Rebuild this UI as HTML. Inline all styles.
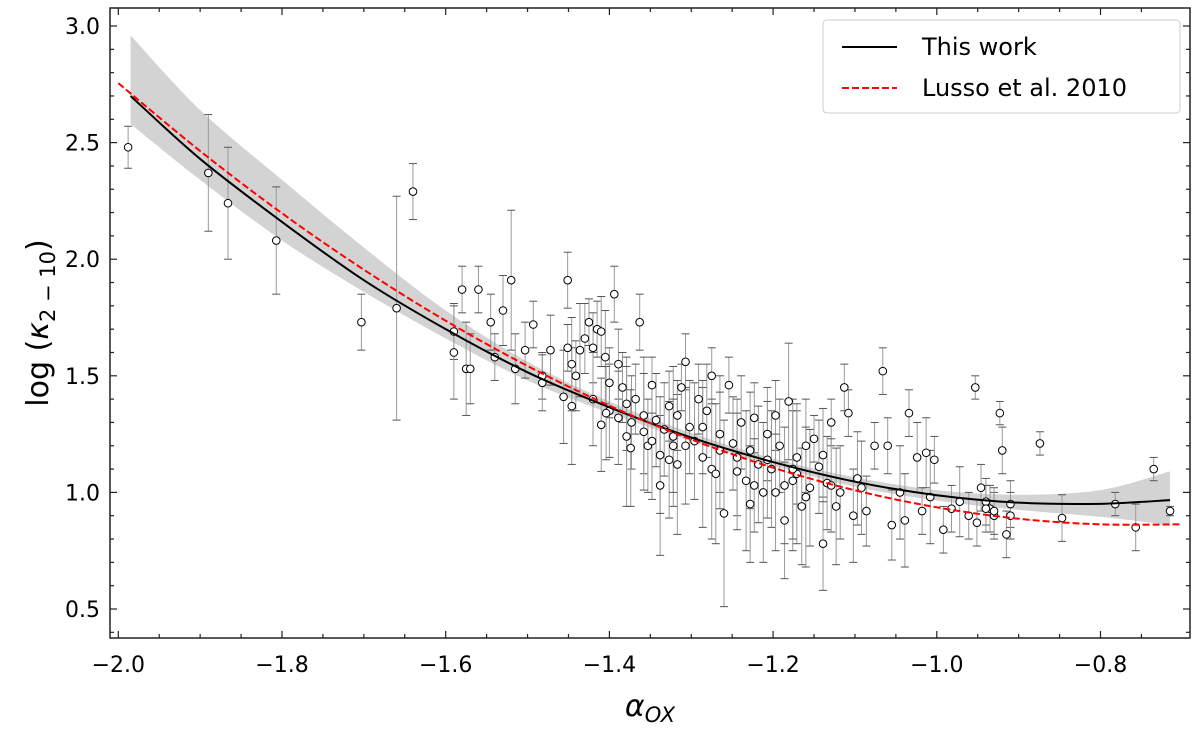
<!DOCTYPE html>
<html><head><meta charset="utf-8"><style>body{margin:0;background:#fff}svg{display:block;font-family:"DejaVu Sans","Liberation Sans",sans-serif}</style></head>
<body>
<svg id="chart" width="1200" height="735" viewBox="0 0 1200 735" xmlns="http://www.w3.org/2000/svg"></svg>
<script>
const alphaOX = [
-1.988,-1.89,-1.866,-1.807,-1.703,-1.66,-1.64,-1.59,-1.59,-1.58,
-1.575,-1.57,-1.56,-1.545,-1.54,-1.53,-1.52,-1.515,-1.503,-1.493,
-1.482,-1.482,-1.472,-1.456,-1.451,-1.446,-1.446,-1.441,-1.436,-1.43,
-1.425,-1.42,-1.415,-1.41,-1.41,-1.405,-1.4,-1.4,-1.394,-1.389,
-1.389,-1.384,-1.379,-1.379,-1.373,-1.368,-1.363,-1.358,-1.353,-1.348,
-1.343,-1.338,-1.338,-1.333,-1.327,-1.322,-1.317,-1.317,-1.312,-1.307,
-1.302,-1.296,-1.291,-1.286,-1.281,-1.275,-1.275,-1.27,-1.265,-1.26,
-1.254,-1.249,-1.244,-1.239,-1.233,-1.228,-1.223,-1.218,-1.212,-1.207,
-1.202,-1.197,-1.192,-1.186,-1.181,-1.176,-1.171,-1.165,-1.16,-1.155,
-1.15,-1.144,-1.139,-1.134,-1.129,-1.123,-1.118,-1.113,-1.108,-1.102,
-1.097,-1.086,-1.076,-1.066,-1.06,-1.055,-1.045,-1.039,-1.034,-1.024,
-1.018,-1.013,-1.008,-1.003,-0.992,-0.982,-0.972,-0.961,-0.951,-0.946,
-0.94,-0.935,-0.93,-0.953,-0.94,-0.93,-0.923,-0.92,-0.915,-0.91,
-0.91,-0.874,-0.847,-0.782,-0.757,-0.735,-0.715,-1.451,-1.358,-1.307,
-1.42,-1.374,-1.327,-1.286,-1.244,-1.228,-1.197,-1.171,-1.16,-1.139,
-1.404,-1.348,-1.322,-1.265,-1.223,-1.207,-1.186,-1.176,-1.129,-1.092];
const logKappa = [
2.48,2.37,2.24,2.08,1.73,1.79,2.29,1.69,1.60,1.87,
1.53,1.53,1.87,1.73,1.58,1.78,1.91,1.53,1.61,1.72,
1.50,1.47,1.61,1.41,1.91,1.55,1.37,1.50,1.61,1.66,
1.73,1.62,1.70,1.69,1.29,1.58,1.35,1.47,1.85,1.55,
1.32,1.45,1.38,1.24,1.30,1.40,1.73,1.33,1.20,1.22,
1.31,1.03,1.16,1.27,1.37,1.24,1.12,1.33,1.45,1.56,
1.28,1.22,1.40,1.15,1.35,1.50,1.10,1.08,1.25,0.91,
1.46,1.21,1.15,1.30,1.05,1.18,1.32,1.12,1.00,1.25,
1.10,1.33,1.20,0.88,1.39,1.05,1.15,0.94,1.20,1.02,
1.23,1.11,0.78,1.04,1.30,0.94,1.00,1.45,1.34,0.90,
1.06,0.92,1.20,1.52,1.20,0.86,1.00,0.88,1.34,1.15,
0.92,1.17,0.98,1.14,0.84,0.93,0.96,0.90,0.87,1.02,
0.96,0.93,0.90,1.45,0.93,0.92,1.34,1.18,0.82,0.95,
0.90,1.21,0.89,0.95,0.85,1.10,0.92,1.62,1.26,1.20,
1.40,1.19,1.14,1.28,1.09,0.95,1.00,1.08,0.98,1.16,
1.34,1.46,1.20,1.18,1.03,1.14,1.03,1.10,1.03,1.02];
const errKappa = [
0.09,0.25,0.24,0.23,0.12,0.48,0.12,0.12,0.2,0.1,
0.2,0.15,0.1,0.12,0.1,0.15,0.3,0.15,0.12,0.1,
0.1,0.12,0.15,0.2,0.12,0.2,0.25,0.15,0.2,0.15,
0.1,0.15,0.12,0.15,0.2,0.2,0.2,0.15,0.12,0.15,
0.2,0.15,0.2,0.3,0.2,0.15,0.12,0.25,0.2,0.25,
0.2,0.3,0.25,0.2,0.15,0.3,0.3,0.15,0.1,0.12,
0.2,0.25,0.15,0.3,0.2,0.12,0.3,0.3,0.25,0.4,
0.12,0.2,0.25,0.2,0.3,0.25,0.15,0.25,0.3,0.2,
0.25,0.15,0.2,0.25,0.25,0.3,0.2,0.25,0.2,0.25,
0.1,0.2,0.2,0.2,0.1,0.25,0.2,0.1,0.1,0.2,
0.2,0.15,0.1,0.1,0.12,0.15,0.2,0.2,0.1,0.15,
0.1,0.15,0.2,0.1,0.1,0.1,0.15,0.1,0.1,0.1,
0.1,0.1,0.1,0.05,0.1,0.1,0.05,0.1,0.1,0.1,
0.1,0.05,0.1,0.05,0.1,0.05,0.02,0.1,0.25,0.25,
0.2,0.25,0.25,0.2,0.25,0.25,0.25,0.3,0.3,0.2,
0.2,0.12,0.2,0.25,0.2,0.25,0.25,0.3,0.2,0.2];
const fitAlpha = [-1.985,-1.9,-1.8,-1.7,-1.6,-1.5,-1.4,-1.3,-1.2,-1.1,-1.0,-0.9,-0.8,-0.715];
const fitThisWork = [2.70,2.43,2.16,1.91,1.70,1.515,1.365,1.235,1.13,1.046,0.988,0.956,0.951,0.967];
const bandUpper = [2.96,2.64,2.34,2.05,1.78,1.56,1.39,1.255,1.145,1.065,1.01,0.99,1.01,1.09];
const bandLower = [2.58,2.34,2.08,1.86,1.66,1.48,1.34,1.22,1.115,1.025,0.965,0.925,0.895,0.86];
const lussoAlpha = [-2.0,-1.9,-1.8,-1.7,-1.6,-1.5,-1.4,-1.3,-1.2,-1.1,-1.0,-0.9,-0.8,-0.7];
const lussoFit = [2.755,2.464,2.197,1.955,1.736,1.542,1.372,1.227,1.106,1.009,0.936,0.887,0.863,0.863];
const xTicks = [-2.0,-1.8,-1.6,-1.4,-1.2,-1.0,-0.8];
const yTicks = [0.5,1.0,1.5,2.0,2.5,3.0];

const L=110,R=1190,T=8,B=638;
const xs=a=>118.3+(a+2)*818.5;
const ys=v=>609-(v-0.5)*233.2;
const svg=document.getElementById('chart');
const NS='http://www.w3.org/2000/svg';
function mk(tag,attrs,parent){const e=document.createElementNS(NS,tag);for(const k in attrs)e.setAttribute(k,attrs[k]);(parent||svg).appendChild(e);return e;}
function curve(xsA,ysA){const p=xsA.map((a,i)=>[xs(a),ys(ysA[i])]);let d='M'+p[0][0]+','+p[0][1];
for(let i=0;i<p.length-1;i++){const p0=p[i-1]||p[i],p1=p[i],p2=p[i+1],p3=p[i+2]||p2;
d+=' C'+(p1[0]+(p2[0]-p0[0])/6)+','+(p1[1]+(p2[1]-p0[1])/6)+' '+(p2[0]-(p3[0]-p1[0])/6)+','+(p2[1]-(p3[1]-p1[1])/6)+' '+p2[0]+','+p2[1];}return d;}

const clip=mk('clipPath',{id:'pc'});mk('rect',{x:L,y:T,width:R-L,height:B-T},clip);
const plot=mk('g',{'clip-path':'url(#pc)'});


const up=curve(fitAlpha,bandUpper);
const lowRev=curve(fitAlpha.slice().reverse(),bandLower.slice().reverse());
const band=mk('path',{d:up+' L'+lowRev.slice(1)+' Z',fill:'#d3d3d3',stroke:'none'},plot);


for(let i=0;i<alphaOX.length;i++){
 const x=xs(alphaOX[i]),y1=ys(logKappa[i]-errKappa[i]),y2=ys(logKappa[i]+errKappa[i]);
 const g=mk('g',{stroke:'#999','stroke-width':1},plot);
 
 
 mk('line',{x1:x,x2:x,y1:y1,y2:y2},g);
 mk('line',{x1:x-4,x2:x+4,y1:y1,y2:y1,stroke:'#555'},g);
 mk('line',{x1:x-4,x2:x+4,y1:y2,y2:y2,stroke:'#555'},g);
}
for(let i=0;i<alphaOX.length;i++){
 const c=mk('circle',{cx:xs(alphaOX[i]),cy:ys(logKappa[i]),r:3.8,fill:'#fff',stroke:'#000','stroke-width':1},plot);
 
 
}
const bl=mk('path',{d:curve(fitAlpha,fitThisWork),fill:'none',stroke:'#000','stroke-width':2},plot);


const rl=mk('path',{d:curve(lussoAlpha,lussoFit),fill:'none',stroke:'#f00','stroke-width':2,'stroke-dasharray':'7,3'},plot);


const fr=mk('rect',{x:L,y:T,width:R-L,height:B-T,fill:'none',stroke:'#222','stroke-width':1.5});


for(let v=-2.0;v<=-0.7;v+=0.05){const x=xs(v);const maj=Math.abs(v*5-Math.round(v*5))<1e-6;const len=maj?7:4;
 mk('line',{x1:x,x2:x,y1:B,y2:B-len,stroke:'#222','stroke-width':1.2});mk('line',{x1:x,x2:x,y1:T,y2:T+len,stroke:'#222','stroke-width':1.2});}
for(let v=0.4;v<=3.1;v+=0.1){const y=ys(v);if(y<T||y>B)continue;const maj=Math.abs(v*2-Math.round(v*2))<1e-6;const len=maj?7:4;
 mk('line',{x1:L,x2:L+len,y1:y,y2:y,stroke:'#222','stroke-width':1.2});mk('line',{x1:R,x2:R-len,y1:y,y2:y,stroke:'#222','stroke-width':1.2});}
xTicks.forEach(v=>{const t=mk('text',{x:xs(v),y:672,'text-anchor':'middle','font-size':22});t.textContent=v.toFixed(1).replace('-','\u2212');
 
 });
yTicks.forEach(v=>{const t=mk('text',{x:L-10,y:ys(v)+8,'text-anchor':'end','font-size':22});t.textContent=v.toFixed(1);
 
 });
const xt=mk('text',{x:650,y:716,'text-anchor':'middle','font-size':30,'font-style':'italic'});
xt.innerHTML='α<tspan font-size="21" dy="6">OX</tspan>';


const yt=mk('text',{transform:'translate(48,323) rotate(-90)','text-anchor':'middle','font-size':30});
yt.innerHTML='log (<tspan font-style="italic">κ</tspan><tspan font-size="21" dy="7">2 − 10</tspan><tspan dy="-7">)</tspan>';


const lg=mk('g',{});


mk('rect',{x:823,y:20,width:357,height:93,rx:4,fill:'#fff',stroke:'#ccc','stroke-width':1},lg);
mk('line',{x1:842,x2:897,y1:47,y2:47,stroke:'#000','stroke-width':2},lg);
mk('line',{x1:842,x2:897,y1:88,y2:88,stroke:'#f00','stroke-width':2,'stroke-dasharray':'7,3'},lg);
const t1=mk('text',{x:922,y:55,'font-size':24},lg);t1.textContent='This work';


const t2=mk('text',{x:922,y:96,'font-size':24},lg);t2.textContent='Lusso et al. 2010';


</script>
</body></html>
